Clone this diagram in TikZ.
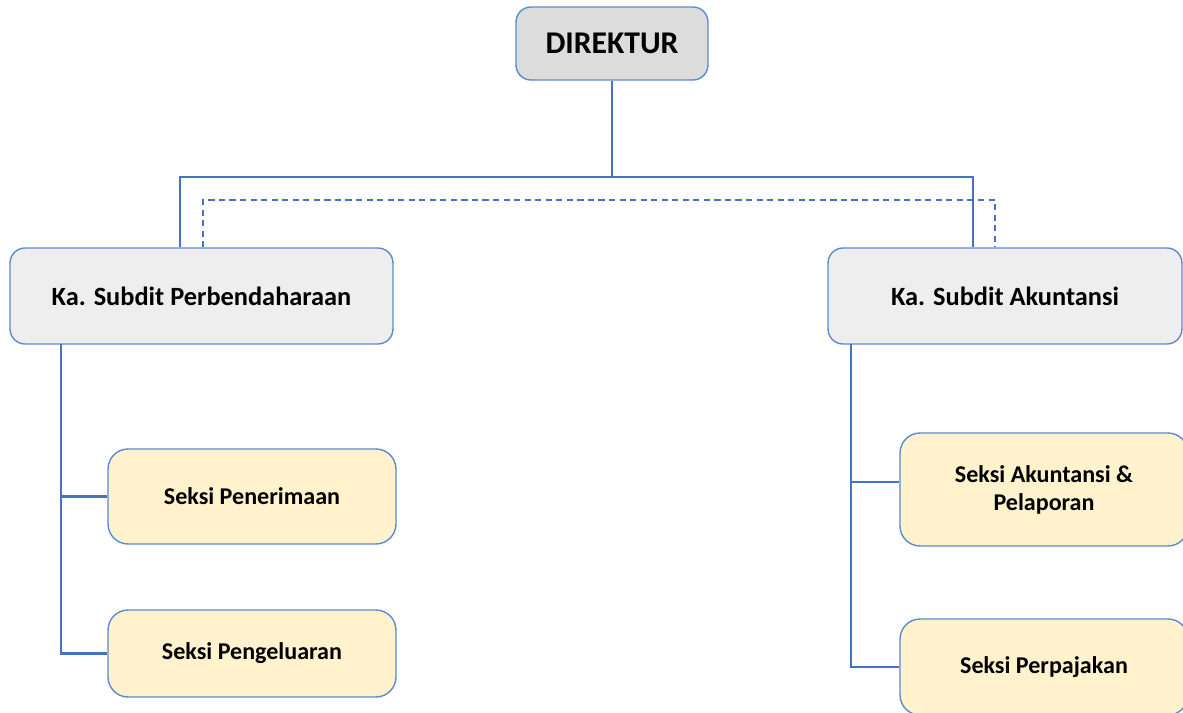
\documentclass[tikz,border=0pt]{standalone}
\usepackage{fontspec}
\setmainfont{Carlito}
\usepackage{tikz}

\definecolor{lineblue}{HTML}{4472C4}
\definecolor{boxblue}{HTML}{5B8BD0}
\definecolor{topgray}{HTML}{DCDCDC}
\definecolor{subgray}{HTML}{EEEEEE}
\definecolor{seksiyellow}{HTML}{FFF2CC}

\begin{document}
\begin{tikzpicture}[x=0.02cm, y=-0.02cm,
  orgbox/.style={draw=boxblue, line width=0.8pt, rounded corners=0.3cm, align=center, font=\bfseries},
  topbox/.style={orgbox, fill=topgray, minimum width=3.84cm, minimum height=1.46cm, font=\bfseries\fontsize{18}{21}\selectfont},
  subbox/.style={orgbox, fill=subgray, minimum height=1.92cm, font=\bfseries\fontsize{15}{18}\selectfont},
  seksibox/.style={orgbox, fill=seksiyellow, minimum width=5.76cm, rounded corners=0.4cm, font=\bfseries\fontsize{13.7}{16}\selectfont},
  conn/.style={draw=lineblue, line width=1.25pt},
  dashconn/.style={draw=lineblue, line width=0.9pt, dash pattern=on 3.5pt off 2.5pt}]
\useasboundingbox (0,0) rectangle (1183,713);
\node[topbox] (NDir) at (612,43.5) {DIREKTUR};
\node[subbox, minimum width=7.66cm] (NSub1) at (201.5,296) {Ka. Subdit Perbendaharaan};
\node[subbox, minimum width=7.08cm] (NSub2) at (1005,296) {Ka. Subdit Akuntansi};
\node[seksibox, minimum height=1.9cm] (NSek1) at (252,496.5) {Seksi Penerimaan};
\node[seksibox, minimum height=1.74cm] (NSek2) at (252,653.5) {Seksi Pengeluaran};
\node[seksibox, minimum height=2.26cm] (NSek3) at (1044,489.5) {Seksi Akuntansi \&\\Pelaporan};
\node[seksibox, minimum height=1.92cm] (NSek4) at (1044,667) {Seksi Perpajakan};
\coordinate (busL) at (180,177);
\coordinate (busR) at (973,177);
\coordinate (dashL) at (203,200);
\coordinate (dashR) at (995,200);
\coordinate (spine1) at (61,344);
\coordinate (spine2) at (851,344);
\coordinate (tap3) at ([yshift=0.15cm]NSek3.west);
\draw[conn] (NDir.south) -- (NDir.south |- busL);
\draw[conn] (NSub1.north -| busL) -- (busL) -- (busR) -- (busR |- NSub2.north);
\draw[dashconn] (NSub1.north -| dashL) -- (dashL) -- (dashR) -- (dashR |- NSub2.north);
\draw[conn] (spine1) -- (spine1 |- NSek2.west) -- (NSek2.west);
\draw[conn] (spine1 |- NSek1.west) -- (NSek1.west);
\draw[conn] (spine2) -- (spine2 |- NSek4.west) -- (NSek4.west);
\draw[conn] (spine2 |- tap3) -- (tap3);
\end{tikzpicture}
\end{document}
